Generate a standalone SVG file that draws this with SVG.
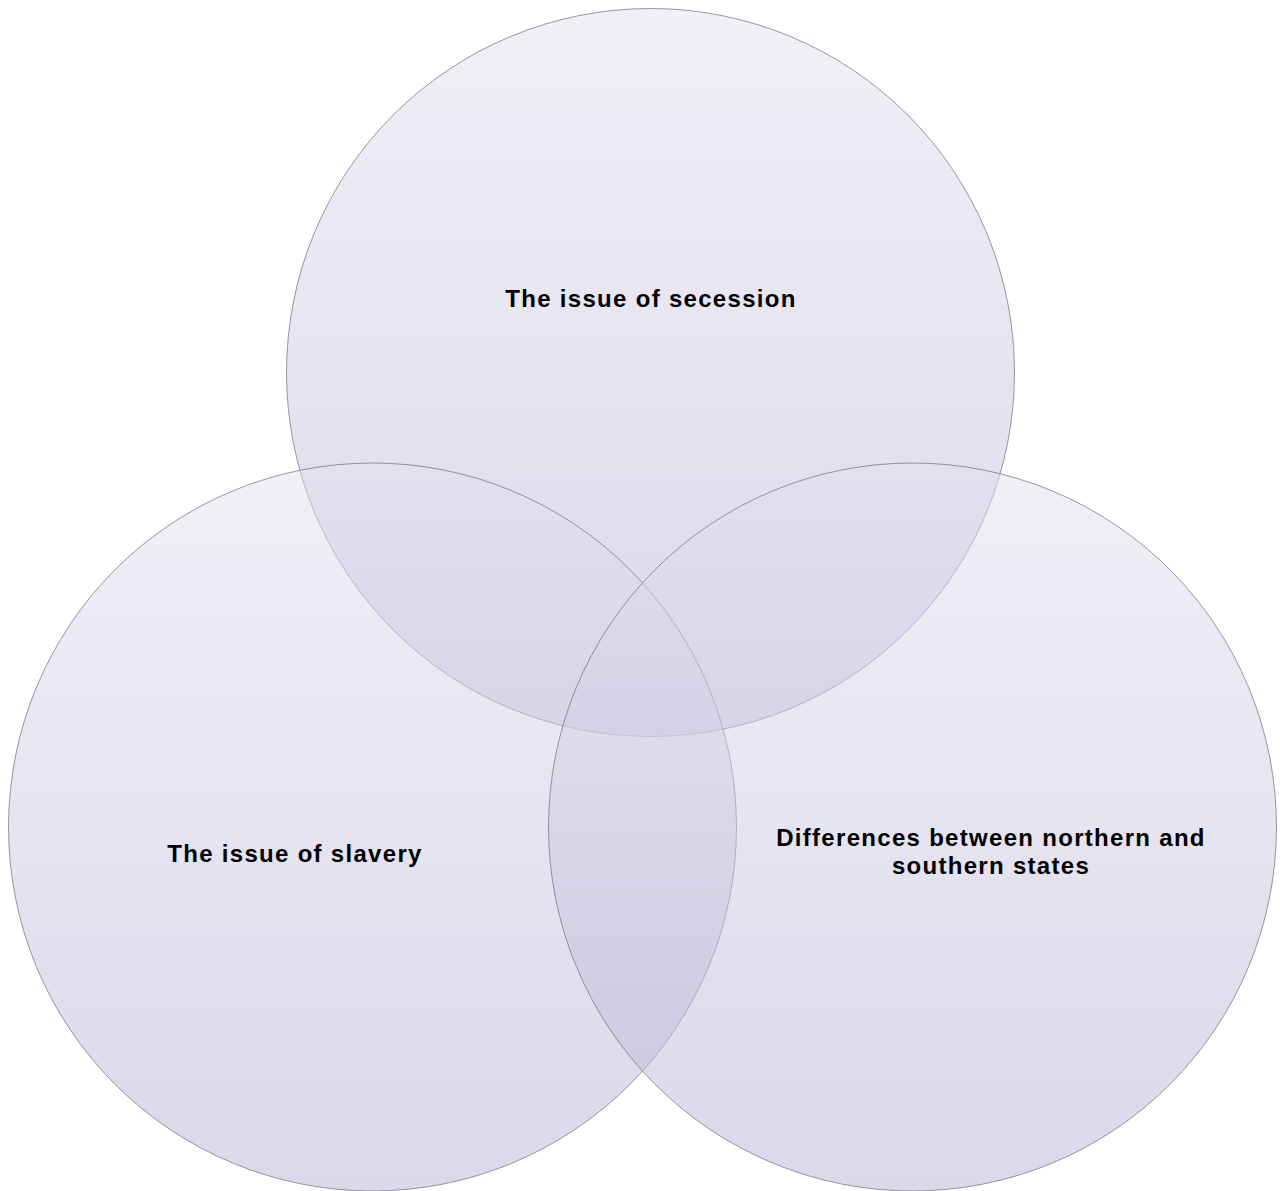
<svg xmlns="http://www.w3.org/2000/svg" width="1280" height="1191" viewBox="0 0 1280 1191">
  <defs>
    <linearGradient id="g" x1="0" y1="0" x2="0" y2="1">
      <stop offset="0" stop-color="#e2e1ee"/>
      <stop offset="1" stop-color="#b6b1d4"/>
    </linearGradient>
    <style>
      .c { fill: url(#g); fill-opacity: 0.5; stroke: #6e6e78; stroke-opacity: 0.7; stroke-width: 1; }
      .t { font-family: "Liberation Sans", Arial, sans-serif; font-weight: bold; font-size: 24px; letter-spacing: 1.3px; fill: #000; text-anchor: middle; }
    </style>
  </defs>
  <rect width="1280" height="1191" fill="#ffffff"/>
  <g id="node-secession">
    <circle class="c" cx="650.5" cy="372.5" r="364"/>
    <text class="t" x="651" y="307">The issue of secession</text>
  </g>
  <g id="node-slavery">
    <circle class="c" cx="372.5" cy="827" r="364"/>
    <text class="t" x="295" y="862">The issue of slavery</text>
  </g>
  <g id="node-differences">
    <circle class="c" cx="912.5" cy="827" r="364"/>
    <text class="t" x="991" y="846">Differences between northern and</text>
    <text class="t" x="991" y="874">southern states</text>
  </g>
  <g id="connectors"></g>
</svg>
